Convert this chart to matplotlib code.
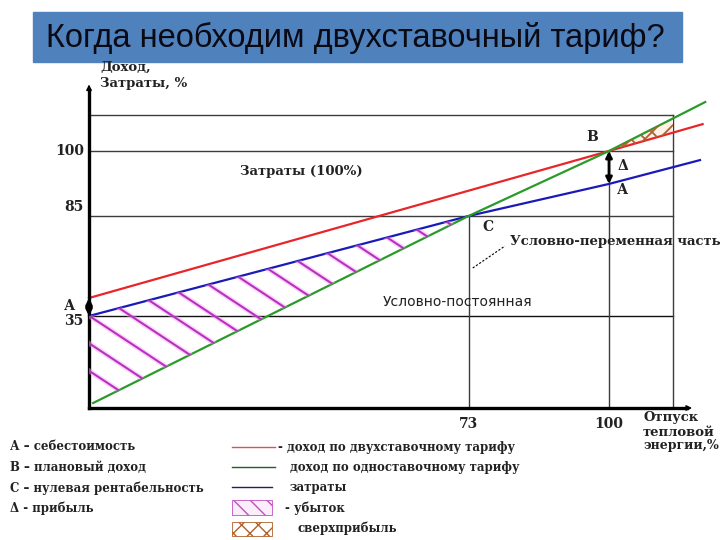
import numpy as np
import matplotlib
matplotlib.use("Agg")
import matplotlib.pyplot as plt
from matplotlib.patches import Polygon, Rectangle
from matplotlib.lines import Line2D

# ---------------- data ----------------
title = "Когда необходим двухставочный тариф?"
y_levels = [35, 85, 100]            # labelled levels of income / costs, %
x_levels = [73, 100]                # labelled output levels, %
top_level = 108.3                    # unlabelled top frame line
right_level = 112.3                  # right frame line

red_x = [0, 100, 118]                # income under two-part tariff
red_y = [44, 100, 106.2]
green_x = [0.8, 73, 100, 118.5]      # income under single-rate tariff
green_y = [1.9, 85, 100, 111.3]
blue_x = [0, 73, 100, 117.5]         # costs
blue_y = [35, 85, 92.4, 97.9]

legend_left = ["А – себестоимость", "В – плановый доход",
               "С – нулевая рентабельность", "Δ - прибыль"]
legend_right = ["- доход по двухставочному тарифу", "доход по одноставочному тарифу",
                "затраты", "- убыток", "сверхприбыль"]

RED, GREEN, BLUE = "#e8262a", "#2a9a2a", "#1a1ab8"
SERIF = dict(family="DejaVu Serif", fontweight="bold", color="#222222")

# ---------------- figure ----------------
fig = plt.figure(figsize=(7.2, 5.4), dpi=100)
ax = fig.add_axes([0, 0, 1, 1])
ax.set_axis_off()

# schematic (not-to-scale) vertical axis, as in the original drawing
V = [-60, 0, 35, 85, 100, 250]
P = [-25.7, 132, 224, 324, 389, 1039]
fwd = lambda v: np.interp(v, V, P)
inv = lambda p: np.interp(p, P, V)
ax.set_yscale("function", functions=(fwd, inv))
ax.set_xlim(-89 / 5.2, (720 - 89) / 5.2)
ax.set_ylim(float(inv(0)), float(inv(540)))

# overlay in pixel coordinates for titles / legend
ov = fig.add_axes([0, 0, 1, 1])
ov.set_xlim(0, 720)
ov.set_ylim(540, 0)
ov.set_axis_off()
ov.patch.set_alpha(0)

# title bar
ov.add_patch(Rectangle((33, 12), 649, 50, color="#4f81bd", zorder=1))
ov.text(355, 38, title, ha="center", va="center", fontsize=23.5,
        family="Liberation Sans", color="#0a0a14", zorder=2)

# grid / frame lines
for lv in y_levels + [top_level]:
    ax.plot([0, right_level], [lv, lv], color="#3c3c3c" if lv != 35 else "#111111",
            lw=1.0, zorder=2)
ax.plot([right_level, right_level], [0, top_level], color="#3c3c3c", lw=1.0, zorder=2)
ax.plot([x_levels[0]] * 2, [0, 85], color="#3c3c3c", lw=1.0, zorder=2)
ax.plot([x_levels[1]] * 2, [0, 100], color="#3c3c3c", lw=1.0, zorder=2)

# axes with arrows
ax.plot([0, 0], [0, 114], color="black", lw=2.4, zorder=5)
ax.plot([0, 115], [0, 0], color="black", lw=2.4, zorder=5)
ax.annotate("", xy=(0, 116), xytext=(0, 113),
            arrowprops=dict(arrowstyle="-|>", color="black", lw=1, mutation_scale=8))
ax.annotate("", xy=(116.5, 0), xytext=(114, 0),
            arrowprops=dict(arrowstyle="-|>", color="black", lw=1, mutation_scale=8))


def hatch_lines(patch, slope, offsets, color, halo, lw):
    xs = np.array([40.0, 720.0])
    for c in offsets:
        ys = c + slope * xs
        items = []
        if halo:
            items.append(Line2D(xs, ys, color=halo, lw=lw + 2.2, alpha=0.45, zorder=3))
        items.append(Line2D(xs, ys, color=color, lw=lw, zorder=3))
        for l in items:
            ov.add_line(l)
            l.set_clip_path(patch)


# loss region (hatched)
loss = Polygon([(0, 35), (73, 85), (green_x[0], green_y[0]), (0, green_y[0])],
               closed=True, facecolor="none", edgecolor="none", transform=ax.transData)
ax.add_patch(loss)
hatch_lines(loss, 0.66, np.arange(312, -90, -27.5), "#b830c0", "#f4a8f4", 1.5)

# excess-profit region (cross hatched)
g_r = float(np.interp(right_level, green_x[2:], green_y[2:]))
r_r = float(np.interp(right_level, red_x[1:], red_y[1:]))
excess = Polygon([(100, 100), (right_level, g_r), (right_level, r_r)], closed=True,
                 facecolor="#fdf1ea", edgecolor="none", transform=ax.transData, zorder=2.5)
ax.add_patch(excess)
hatch_lines(excess, 1.0, np.arange(-520, -380, 14), "#b0602a", None, 1.3)
hatch_lines(excess, -1.0, np.arange(700, 860, 14), "#b0602a", None, 1.3)

# main lines
ax.plot(red_x, red_y, color=RED, lw=1.6, zorder=4)
ax.plot(blue_x, blue_y, color=BLUE, lw=1.6, zorder=4)
ax.plot(green_x, green_y, color=GREEN, lw=1.6, zorder=4)

# double arrows
arrow = dict(arrowstyle="<|-|>", color="black", lw=2.0, mutation_scale=9,
             shrinkA=0, shrinkB=0)
ax.annotate("", xy=(0, red_y[0]), xytext=(0, blue_y[0]), arrowprops=arrow, zorder=6)
ax.annotate("", xy=(100, 100), xytext=(100, blue_y[2]), arrowprops=arrow, zorder=6)

# tick labels
for lv, yy in zip(y_levels, [33, 87, 100]):
    ax.text(-1.0, yy, str(lv), ha="right", va="center", fontsize=10, **SERIF)
for lv in x_levels:
    ax.text(lv, -6.2, str(lv), ha="center", va="center", fontsize=10, **SERIF)

# point labels
ax.text(-2.6, 39.8, "А", ha="right", va="center", fontsize=10, **SERIF)
ax.text(96.8, 103.2, "В", ha="center", va="center", fontsize=10, **SERIF)
ax.text(101.6, 96.5, "Δ", ha="left", va="center", fontsize=10, **SERIF)
ax.text(101.6, 91.0, "А", ha="left", va="center", fontsize=10, **SERIF)
ax.text(75.6, 79.5, "С", ha="left", va="center", fontsize=10, **SERIF)

# annotations inside the chart
ax.text(29, 95.2, "Затраты (100%)", ha="left", va="center", fontsize=9.5, **SERIF)
ax.text(81, 72.5, "Условно-переменная часть", ha="left", va="center",
        fontsize=9.5, clip_on=False, **SERIF)
ax.plot([73.8, 80], [59, 70], color="black", lw=0.8, ls=(0, (2, 1.5)), zorder=4)
ax.text(56.5, 42.2, "Условно-постоянная", ha="left", va="center", fontsize=10,
        family="DejaVu Sans", color="#222222")

# axis titles
ov.text(100, 67, "Доход,", ha="left", va="center", fontsize=9.5, **SERIF)
ov.text(100, 83, "Затраты, %", ha="left", va="center", fontsize=9.5, **SERIF)
ov.text(643, 418, "Отпуск", ha="left", va="center", fontsize=9.5, **SERIF)
ov.text(643, 432, "тепловой", ha="left", va="center", fontsize=9.5, **SERIF)
ov.text(643, 446, "энергии,%", ha="left", va="center", fontsize=9, **SERIF)

# legend
for i, t in enumerate(legend_left):
    ov.text(10, 447 + i * 20.5, t, ha="left", va="center", fontsize=8.5, **SERIF)
ov.plot([232, 275], [447, 447], color="#e05050", lw=1.0)
ov.plot([232, 275], [467, 467], color="#206020", lw=1.0)
ov.plot([232, 272], [487, 487], color="#202060", lw=1.0)
ov.add_patch(Rectangle((232, 500), 40, 15, facecolor="#fbeefb", edgecolor="#c050c0",
                       hatch="\\\\", lw=0.6))
ov.add_patch(Rectangle((232, 522), 40, 14, facecolor="white", edgecolor="#b0602a",
                       hatch="xx", lw=0.6))
rx = [278, 290, 290, 285, 297]
ry = [447, 467, 487, 508, 528]
for t, xx, yy in zip(legend_right, rx, ry):
    ov.text(xx, yy, t, ha="left", va="center", fontsize=8.5, **SERIF)

fig.savefig("out.png", dpi=100)
